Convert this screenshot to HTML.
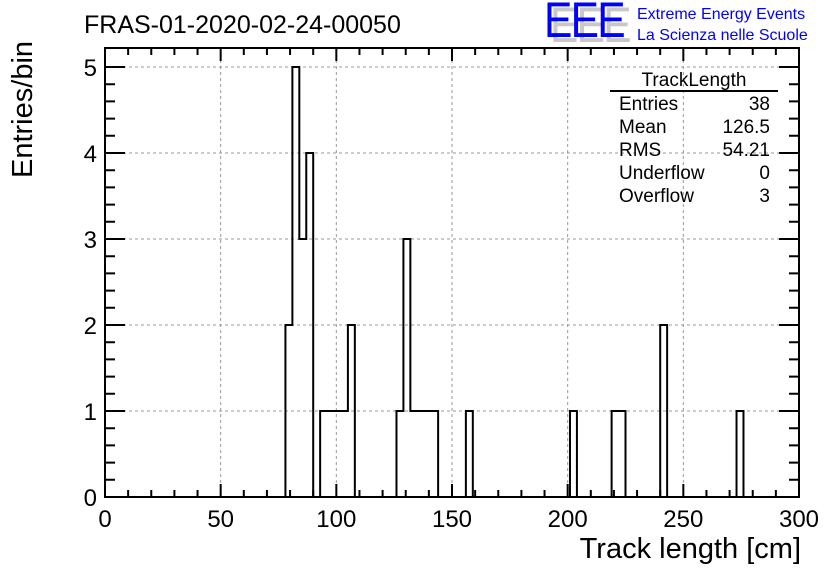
<!DOCTYPE html>
<html><head><meta charset="utf-8"><style>
body{margin:0;background:#fff;}
svg{display:block;font-family:"Liberation Sans",sans-serif;}
</style></head><body>
<svg id="c" width="836" height="572" viewBox="0 0 836 572">
<rect width="836" height="572" fill="#fff"/>
<text x="84" y="33" font-size="25">FRAS-01-2020-02-24-00050</text>
<g>
<text x="0" y="0" font-size="50" fill="#c8c8c8" transform="translate(550,42) scale(0.85,1)" letter-spacing="-2">EEE</text>
<text x="0" y="0" font-size="50" fill="#0000ff" transform="translate(544,37) scale(0.85,1)" letter-spacing="-2">EEE</text>
</g>
<text x="637" y="19" font-size="16" fill="#0000ff">Extreme Energy Events</text>
<text x="637" y="40" font-size="16" fill="#0000ff">La Scienza nelle Scuole</text>
<g id="grid"></g>
<g id="ticks"></g>
<path id="hist" fill="none" stroke="#000" stroke-width="2"/>
<rect x="105" y="48" width="694" height="449" fill="none" stroke="#000" stroke-width="2"/>
<g id="xlabels" font-size="24" text-anchor="middle"></g>
<g id="ylabels" font-size="24" text-anchor="end"></g>
<text x="801" y="558" font-size="29" text-anchor="end">Track length [cm]</text>
<text transform="translate(32,178) rotate(-90)" font-size="29">Entries/bin</text>
<g font-size="19">
<text x="694" y="86" text-anchor="middle">TrackLength</text>
<line x1="610" y1="91" x2="778" y2="91" stroke="#000" stroke-width="2"/>
<text x="619" y="110">Entries</text><text x="770" y="110" text-anchor="end">38</text>
<text x="619" y="133">Mean</text><text x="770" y="133" text-anchor="end">126.5</text>
<text x="619" y="156">RMS</text><text x="770" y="156" text-anchor="end">54.21</text>
<text x="619" y="179">Underflow</text><text x="770" y="179" text-anchor="end">0</text>
<text x="619" y="202">Overflow</text><text x="770" y="202" text-anchor="end">3</text>
</g>
</svg>
<script>
const binWidth = 3;
const binStarts = [78,81,84,87,90,93,96,99,102,105,108,126,129,132,135,138,141,144,156,159,201,204,219,222,225,240,243,273,276];
const binCounts = [2,5,3,4,0,1,1,1,1,2,0,1,3,1,1,1,1,0,1,0,1,0,1,1,0,2,0,1,0];
const xTicks = [0,50,100,150,200,250,300];
const yTicks = [0,1,2,3,4,5];
const NS="http://www.w3.org/2000/svg";
const X0=105,X1=799,Y0=497,Y1=48;
const sx=v=>X0+(v/300)*(X1-X0);
const sy=v=>Y0-v*86;
function mk(tag,attrs,parent){const e=document.createElementNS(NS,tag);for(const k in attrs)e.setAttribute(k,attrs[k]);parent.appendChild(e);return e;}
const grid=document.getElementById('grid'),ticks=document.getElementById('ticks');
xTicks.forEach(t=>{if(t>0&&t<300){const l=mk('line',{x1:sx(t),x2:sx(t),y1:Y1,y2:Y0,stroke:'#999','stroke-dasharray':'3,3'},grid);

}});
yTicks.forEach(t=>{if(t>0){const l=mk('line',{x1:X0,x2:X1,y1:sy(t),y2:sy(t),stroke:'#999','stroke-dasharray':'3,3'},grid);

}});
let d='';
for(let v=0;v<=300;v+=10){const L=v%50===0?13:7;d+=`M${sx(v)},${Y0}v${-L}M${sx(v)},${Y1}v${L}`;}
for(let v=0;v<=5.2;v+=0.2){const y=sy(v);if(y<Y1)break;const L=Math.abs(v-Math.round(v))<1e-6?20:10;d+=`M${X0},${y}h${L}M${X1},${y}h${-L}`;}
mk('path',{d:d,stroke:'#000','stroke-width':2,fill:'none'},ticks);
const xl=document.getElementById('xlabels');
xTicks.forEach(t=>{const e=mk('text',{x:sx(t),y:Y0+30},xl);e.textContent=t;

});
const yl=document.getElementById('ylabels');
yTicks.forEach(t=>{const e=mk('text',{x:X0-8,y:sy(t)+9},yl);e.textContent=t;

});
let p='';
binStarts.forEach((s,i)=>{const c=binCounts[i];
 if(i===0||binStarts[i-1]+binWidth!==s){if(i>0)p+=`L${sx(binStarts[i-1]+binWidth)},${sy(0)}`;p+=`M${sx(s)},${sy(0)}`;}
 p+=`L${sx(s)},${sy(c)}L${sx(s+binWidth)},${sy(c)}`;});
p+=`L${sx(binStarts[binStarts.length-1]+binWidth)},${sy(0)}`;
document.getElementById('hist').setAttribute('d',p);
</script>
</body></html>
